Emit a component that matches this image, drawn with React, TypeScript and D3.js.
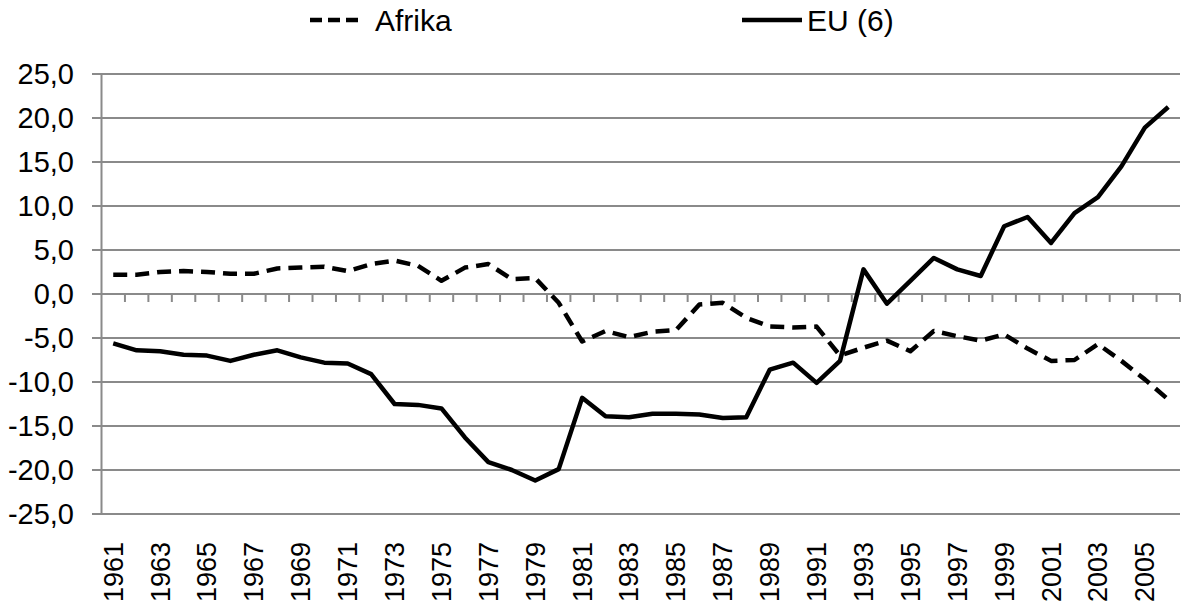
import React from "react";
import * as d3 from "d3";

const years = d3.range(1961, 2007).map(String);

const afrika = [
  2.2, 2.2, 2.5, 2.6, 2.5, 2.3, 2.3, 2.9, 3.0, 3.1, 2.6, 3.4, 3.8, 3.2, 1.5, 3.0,
  3.4, 1.7, 1.8, -1.0, -5.4, -4.2, -4.9, -4.3, -4.1, -1.2, -1.0, -2.7, -3.7, -3.8,
  -3.7, -7.0, -6.1, -5.3, -6.5, -4.2, -4.8, -5.3, -4.6, -6.2, -7.6, -7.5, -5.7,
  -7.6, -9.7, -12.0,
];

const eu6 = [
  -5.6, -6.4, -6.5, -6.9, -7.0, -7.6, -6.9, -6.4, -7.2, -7.8, -7.9, -9.1, -12.5,
  -12.6, -13.0, -16.3, -19.1, -20.0, -21.2, -19.9, -11.8, -13.9, -14.0, -13.6,
  -13.6, -13.7, -14.1, -14.0, -8.6, -7.8, -10.1, -7.6, 2.8, -1.1, 1.5, 4.1, 2.8,
  2.05, 7.7, 8.75, 5.8, 9.2, 11.0, 14.5, 18.9, 21.25,
];

const yTicks = [25, 20, 15, 10, 5, 0, -5, -10, -15, -20, -25];
const xLabels = years.filter((_, i) => i % 2 === 0);

const W = 1182;
const H = 608;
const font = "'Liberation Sans', Arial, sans-serif";
const gridColor = "#8a8a8a";

const locale = d3.formatLocale({
  decimal: ",",
  thousands: ".",
  grouping: [3],
  currency: ["", ""],
  minus: "-",
});
const fmt = locale.format(".1f");

export default function App() {
  const x = d3.scaleBand().domain(years).range([101.5, 1180]).padding(0);
  const y = d3.scaleLinear().domain([-25, 25]).range([514, 74]);
  const cx = (i: number) => (x(years[i]) as number) + x.bandwidth() / 2;

  const line = d3
    .line<number>()
    .x((_, i) => cx(i))
    .y((d) => y(d));

  const dash = "14 8";

  return (
    <svg
      width={W}
      height={H}
      style={{ position: "absolute", left: 0, top: 0, background: "#fff" }}
      fontFamily={font}
    >
      {/* legend */}
      <g>
        <line x1={310} x2={362} y1={20} y2={20} stroke="#000" strokeWidth={4.5} strokeDasharray="12 6" />
        <text x={375} y={20} dy="0.35em" fontSize={30}>Afrika</text>
        <line x1={742} x2={802} y1={20} y2={20} stroke="#000" strokeWidth={4.5} />
        <text x={807} y={20} dy="0.35em" fontSize={30}>EU (6)</text>
      </g>

      {/* grid + y axis */}
      {yTicks.map((t) => (
        <g key={t}>
          <line x1={92} x2={1180} y1={y(t)} y2={y(t)} stroke={gridColor} strokeWidth={2} />
          <text x={74} y={y(t)} dy="0.35em" textAnchor="end" fontSize={29}>
            {fmt(t)}
          </text>
        </g>
      ))}
      <line x1={101.5} x2={101.5} y1={y(25)} y2={y(-25)} stroke={gridColor} strokeWidth={2} />

      {/* category ticks on zero line */}
      {years.map((yr) => (
        <line
          key={yr}
          x1={(x(yr) as number) + x.bandwidth()}
          x2={(x(yr) as number) + x.bandwidth()}
          y1={y(0)}
          y2={y(0) + 8}
          stroke={gridColor}
          strokeWidth={2}
        />
      ))}

      {/* x labels */}
      {xLabels.map((yr) => {
        const px = (x(yr) as number) + x.bandwidth() / 2;
        return (
          <text
            key={yr}
            transform={`translate(${px},602) rotate(-90)`}
            dy="0.35em"
            textAnchor="start"
            fontSize={27}
          >
            {yr}
          </text>
        );
      })}

      {/* series */}
      <path d={line(afrika) || ""} fill="none" stroke="#000" strokeWidth={4.5} strokeDasharray={dash} strokeLinejoin="round" />
      <path d={line(eu6) || ""} fill="none" stroke="#000" strokeWidth={4.5} strokeLinejoin="round" />
    </svg>
  );
}
